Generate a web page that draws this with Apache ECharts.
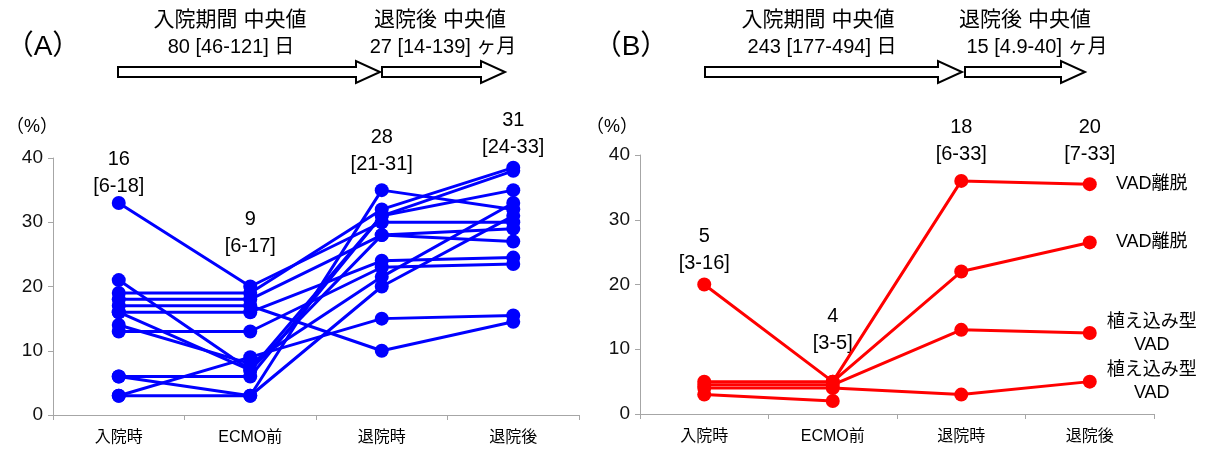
<!DOCTYPE html>
<html>
<head>
<meta charset="utf-8">
<script src="https://cdn.jsdelivr.net/npm/echarts@6/dist/echarts.min.js"></script>
<style>
  html, body { margin: 0; padding: 0; background: #fff; }
  #main { width: 1209px; height: 454px; }
</style>
</head>
<body>
<div id="main"></div>
<script>
const categories = ['入院時', 'ECMO前', '退院時', '退院後'];

// (A) one row per patient, %
const patientsA = [
  [33, 20, 30, 30],
  [19, 19, 32, 38.5],
  [18, 18, 28, 27],
  [17, 17, 10, 14.5],
  [16, 16, 24, 24.5],
  [13, 13, 23, 23.5],
  [21, 7, 31, 38],
  [16, 7, 28, 29],
  [14, 8, 21.5, 33],
  [3, 9, 15, 15.5],
  [6, 6, 31, 35],
  [6, 3, 20, 31],
  [3, 3, 35, 32]
];
const medianA = ['16', '9', '28', '31'];
const iqrA = ['[6-18]', '[6-17]', '[21-31]', '[24-33]'];

// (B)
const patientsB = [
  [20, 5, 36, 35.5],
  [5, 5, 22, 26.5],
  [4.5, 4.5, 13, 12.5],
  [4, 4, 3, 5],
  [3, 2, null, null]
];
const outcomeB = ['VAD離脱', 'VAD離脱', '植え込み型\nVAD', '植え込み型\nVAD', ''];
const medianB = ['5', '4', '18', '20'];
const iqrB = ['[3-16]', '[3-5]', '[6-33]', '[7-33]'];

// header texts
const headA = ['入院期間 中央値', '80 [46-121] 日', '退院後 中央値', '27 [14-139] ヶ月'];
const headB = ['入院期間 中央値', '243 [177-494] 日', '退院後 中央値', '15 [4.9-40] ヶ月'];

// vertical spot of the median labels (axis units)
const labelYA = [37.7, 28.4, 41.1, 43.7];
const labelYB = [25.4, 12.9, 42.1, 42.1];

const FONT = '"Liberation Sans", "Noto Sans CJK JP", sans-serif';

function xAxisOf(grid) {
  return {
    type: 'category', gridIndex: grid, data: categories, boundaryGap: true,
    axisLine: {lineStyle: {color: '#a6a6a6', width: 1}},
    axisTick: {show: true, length: 5, lineStyle: {color: '#a6a6a6'}},
    axisLabel: {fontSize: 16, color: '#000', margin: 15, fontFamily: FONT}
  };
}

function yAxisOf(grid) {
  return {
    type: 'value', gridIndex: grid, min: 0, max: 40, interval: 10,
    axisLine: {show: true, lineStyle: {color: '#a6a6a6', width: 1}},
    axisTick: {show: true, length: 5, lineStyle: {color: '#a6a6a6'}},
    splitLine: {show: false},
    axisLabel: {fontSize: 19, color: '#111', margin: 10, fontFamily: FONT}
  };
}

function patientSeries(rows, grid, color, notes) {
  return rows.map((row, i) => ({
    type: 'line', xAxisIndex: grid, yAxisIndex: grid,
    data: row.map((v, j) => {
      if (notes && notes[i] && j === row.length - 1) {
        return {
          value: v,
          label: {
            show: true, position: 'right', align: 'center', offset: [50, 0],
            formatter: notes[i], fontSize: 18, lineHeight: 23, color: '#000', fontFamily: FONT
          }
        };
      }
      return v;
    }),
    symbol: 'circle', symbolSize: 14, showSymbol: true,
    lineStyle: {color: color, width: 3},
    itemStyle: {color: color},
    clip: false, silent: true, animation: false
  }));
}

function medianSeries(grid, ys, med, iqr) {
  return {
    type: 'scatter', xAxisIndex: grid, yAxisIndex: grid,
    data: ys.map((y, i) => [i, y]),
    symbolSize: 0, itemStyle: {color: '#fff'},
    clip: false, silent: true, animation: false,
    label: {
      show: true, position: 'inside', fontSize: 20, lineHeight: 27,
      color: '#000', textBorderWidth: 0, opacity: 1, fontFamily: FONT,
      formatter: p => med[p.dataIndex] + '\n' + iqr[p.dataIndex]
    }
  };
}

function arrow(x0, x1, y) {
  const b = 5, h = 11, hl = 24;
  return {
    type: 'polygon',
    shape: {points: [[x0, y - b], [x1 - hl, y - b], [x1 - hl, y - h], [x1, y], [x1 - hl, y + h], [x1 - hl, y + b], [x0, y + b]]},
    style: {fill: '#fff', stroke: '#000', lineWidth: 2}
  };
}

function txt(x, y, s, size, align) {
  return {
    type: 'text', x: x, y: y,
    style: {text: s, fill: '#000', font: size + 'px ' + FONT, align: align || 'center', verticalAlign: 'middle'}
  };
}

const chart = echarts.init(document.getElementById('main'), null, {renderer: 'canvas'});

chart.setOption({
  animation: false,
  backgroundColor: '#fff',
  grid: [
    {left: 53, right: 630, top: 158, bottom: 39},
    {left: 640, right: 55, top: 155, bottom: 40}
  ],
  xAxis: [xAxisOf(0), xAxisOf(1)],
  yAxis: [yAxisOf(0), yAxisOf(1)],
  series: [
    ...patientSeries(patientsA, 0, '#0000ff'),
    ...patientSeries(patientsB, 1, '#ff0000', outcomeB),
    medianSeries(0, labelYA, medianA, iqrA),
    medianSeries(1, labelYB, medianB, iqrB)
  ],
  graphic: [
    txt(43, 47, '（A）', 28),
    txt(230, 20, headA[0], 21),
    txt(231, 47, headA[1], 20),
    txt(440, 20, headA[2], 21),
    txt(443, 47, headA[3], 20),
    arrow(118, 380, 72),
    arrow(382, 505, 72),
    txt(631, 47, '（B）', 28),
    txt(818, 20, headB[0], 21),
    txt(822, 47, headB[1], 20),
    txt(1025, 20, headB[2], 21),
    txt(1037, 47, headB[3], 20),
    arrow(705, 962, 72),
    arrow(965, 1085, 72),
    txt(32, 127, '（%）', 18),
    txt(612, 127, '（%）', 18)
  ]
});
</script>
</body>
</html>
